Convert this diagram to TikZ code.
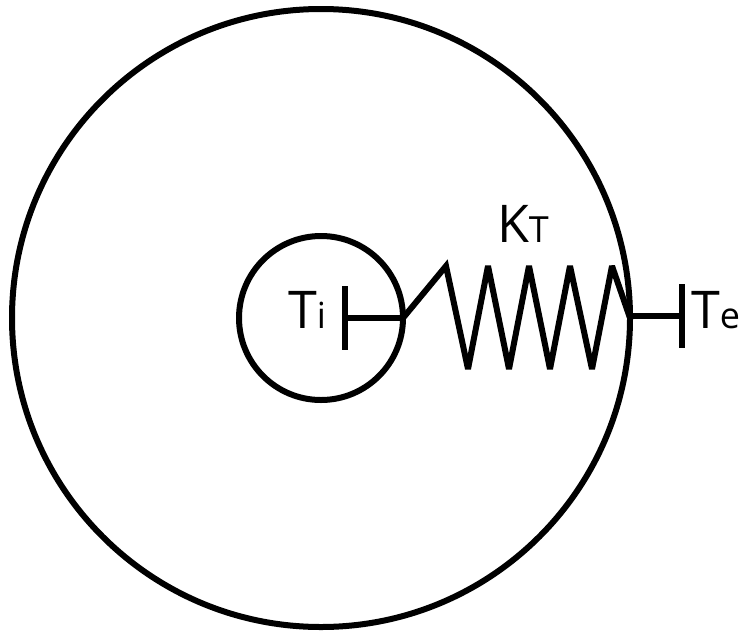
\documentclass[tikz,border=0pt]{standalone}
\usepackage{fontspec}
\setmainfont{Open Sans}
\usepackage{xcolor}
\usetikzlibrary{
  positioning,
  calc
}
\newcommand{\bigsize}{\fontsize{52}{52}\selectfont}
\newcommand{\smallsize}{\fontsize{36}{36}\selectfont}
\tikzset{
  wheel/.style={draw, circle, line width=6pt, inner sep=0pt, outer sep=0pt},
  springline/.style={line width=6pt, line join=miter, miter limit=3},
  shaftline/.style={line width=6pt},
  tag/.style={inner sep=0pt, outer sep=0pt, anchor=base west, font=\bigsize}
}
\begin{document}
\begin{tikzpicture}[x=1pt, y=-1pt]
  \useasboundingbox (0,0) rectangle (743,632);
  \node[wheel, minimum size=618pt] (outer) at (321,318) {};
  \node[wheel, minimum size=164pt] (inner) at (321,318) {};
  % end plates
  \coordinate (pi) at (345,318);
  \coordinate (pe) at (682,316);
  \coordinate (pitop) at (345,286);
  \coordinate (pibot) at (345,350);
  \coordinate (petop) at (682,284);
  \coordinate (pebot) at (682,348);
  \draw[shaftline] (pitop) -- (pibot);
  \draw[shaftline] (petop) -- (pebot);
  \draw[shaftline] (pi) -- (inner.east);
  \draw[shaftline] (outer.east |- pe) -- (pe);
  % spring
  \draw[springline] (inner.east) -- (446,266) -- (468,369) -- (488,266) -- (509,369)
    -- (529,266) -- (550,369) -- (570,266) -- (592,369) -- (612,266) -- (outer.east);
  % labels
  \node[tag] (ti) at (288,328) {T{\smallsize i}};
  \node[tag] (te) at (691,328) {T{\smallsize e}};
  \node[tag] (kt) at (497,242) {K{\smallsize T}};
\end{tikzpicture}
\end{document}
